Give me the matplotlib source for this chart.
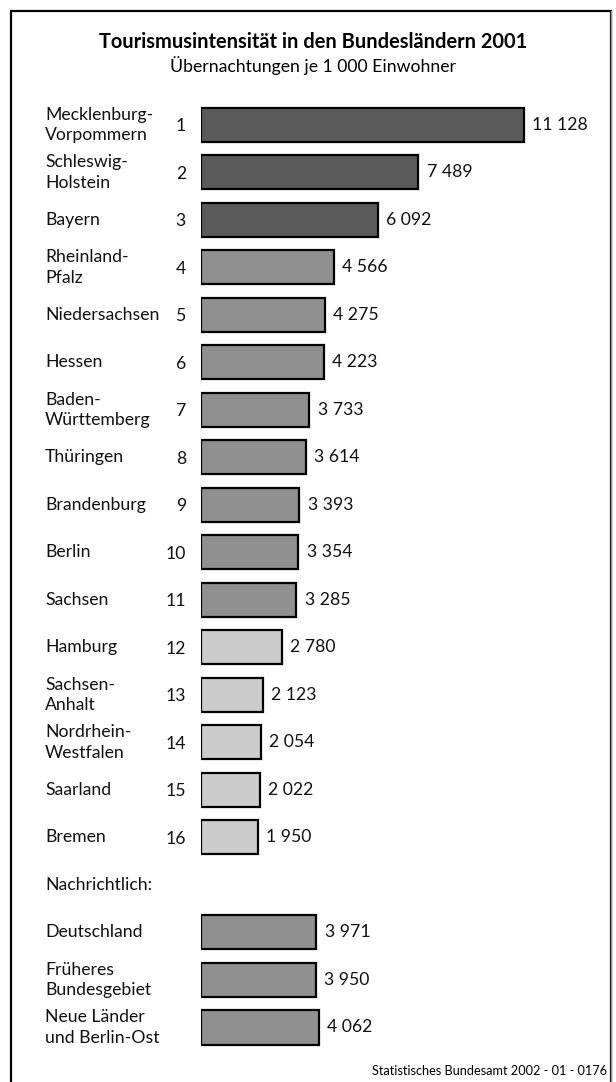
import matplotlib
matplotlib.use("Agg")
import matplotlib.pyplot as plt
from matplotlib.patches import Rectangle
from matplotlib.transforms import blended_transform_factory

plt.rcParams["font.family"] = ["Lato", "DejaVu Sans"]

# Bundeslaender, ranked
states = [
    "Mecklenburg-\nVorpommern", "Schleswig-\nHolstein", "Bayern", "Rheinland-\nPfalz",
    "Niedersachsen", "Hessen", "Baden-\nWürttemberg", "Thüringen", "Brandenburg",
    "Berlin", "Sachsen", "Hamburg", "Sachsen-\nAnhalt", "Nordrhein-\nWestfalen",
    "Saarland", "Bremen",
]
state_values = [11128, 7489, 6092, 4566, 4275, 4223, 3733, 3614, 3393,
                3354, 3285, 2780, 2123, 2054, 2022, 1950]
state_groups = ["top"] * 3 + ["mid"] * 8 + ["low"] * 5

# Nachrichtlich
totals = ["Deutschland", "Früheres\nBundesgebiet", "Neue Länder\nund Berlin-Ost"]
total_values = [3971, 3950, 4062]

GROUP_COLORS = {"top": "#5b5b5b", "mid": "#909090", "low": "#cccccc"}
FS = 12.7
LS = 1.32
TXT = "#111111"

W, H, DPI = 616, 1082, 100
fig = plt.figure(figsize=(W / DPI, H / DPI), dpi=DPI)

# axes in pixel layout: value 0 at x=201, one row every 47.5 px starting at y=125
x0, x1 = 201, 601
px_per_unit = (524 - 201) / 11128
row0, row_h = 125, 47.5
ax = fig.add_axes([x0 / W, 0, (x1 - x0) / W, 1])
ax.set_xlim(0, (x1 - x0) / px_per_unit)
ax.set_ylim((H - row0) / row_h, -row0 / row_h)
ax.axis("off")

state_rows = list(range(len(states)))
note_row = len(states)
total_rows = [note_row + 1, note_row + 2, note_row + 3]
bar_h = 34 / row_h

bars = ax.barh(state_rows, state_values, height=bar_h,
               color=[GROUP_COLORS[g] for g in state_groups],
               edgecolor="black", linewidth=1.6)
tbars = ax.barh(total_rows, total_values, height=bar_h,
                color=GROUP_COLORS["mid"], edgecolor="black", linewidth=1.6)

fmt = lambda v: f"{v:,}".replace(",", " ")
for b in (bars, tbars):
    ax.bar_label(b, labels=[fmt(v) for v in b.datavalues], padding=6,
                 fontsize=FS, color=TXT)

trans = blended_transform_factory(fig.transFigure, ax.transData)
for i, name in enumerate(states):
    ax.text(45 / W, i, name, transform=trans, ha="left", va="center",
            fontsize=FS, linespacing=LS, color=TXT)
    ax.text(186 / W, i + 0.03, str(i + 1), transform=trans, ha="right", va="center",
            fontsize=FS, color=TXT)

ax.text(45 / W, note_row, "Nachrichtlich:", transform=trans, ha="left", va="center",
        fontsize=FS, color=TXT)
for r, name in zip(total_rows, totals):
    ax.text(45 / W, r, name, transform=trans, ha="left", va="center",
            fontsize=FS, linespacing=LS, color=TXT)

fig.text(313 / W, 1 - 48 / H, "Tourismusintensität in den Bundesländern 2001",
         ha="center", va="baseline", fontsize=14.4, fontweight="bold")
fig.text(313 / W, 1 - 72 / H, "Übernachtungen je 1 000 Einwohner",
         ha="center", va="baseline", fontsize=FS)
fig.text(607 / W, 1 - 1071 / H, "Statistisches Bundesamt 2002 - 01 - 0176",
         ha="right", va="center", fontsize=9.2)

# frame
fig.add_artist(Rectangle((11 / W, -0.01), 600 / W, 1.01 - 11 / H,
                         transform=fig.transFigure, fill=False,
                         edgecolor="black", linewidth=1.6, clip_on=False))
fig.add_artist(plt.Line2D([611 / W, 611 / W], [0, 1 - 11 / H],
                          transform=fig.transFigure, color="#999999", linewidth=1))

fig.savefig("out.png", dpi=DPI)
